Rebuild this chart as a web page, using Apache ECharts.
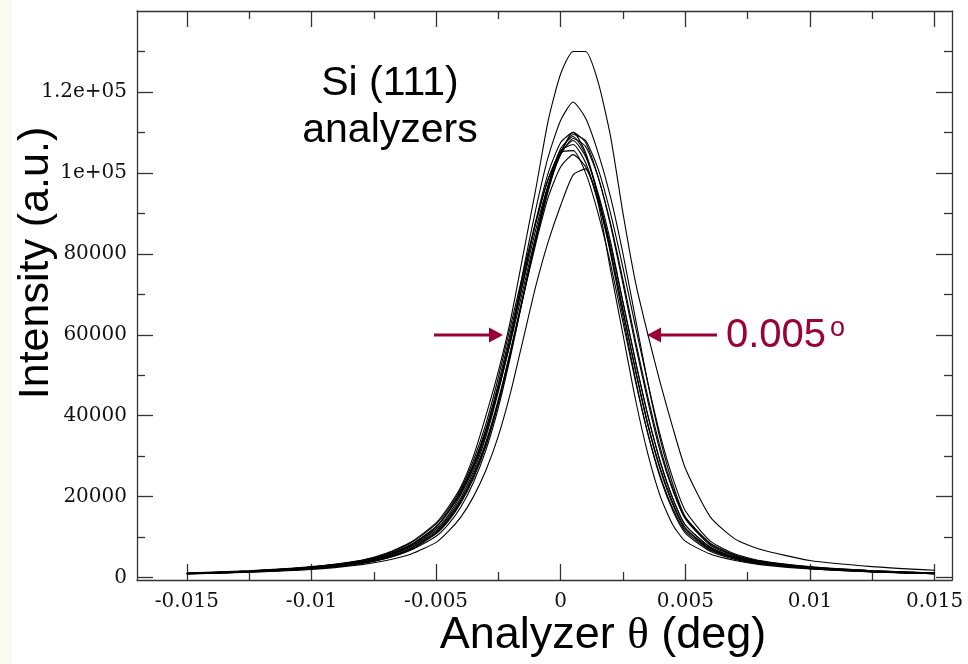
<!DOCTYPE html>
<html>
<head>
<meta charset="utf-8">
<script src="https://cdn.jsdelivr.net/npm/echarts@6/dist/echarts.min.js"></script>
<style>
  html, body { margin: 0; padding: 0; background: #fff; }
  #main { width: 968px; height: 664px; }
</style>
</head>
<body>
<div id="main"></div>
<script>
// x positions (deg) shared by every curve
var xs = [-0.015, -0.0125, -0.01, -0.008, -0.007, -0.006, -0.005, -0.0045, -0.004, -0.0035,
  -0.003, -0.0025, -0.002, -0.0015, -0.001, -0.0005, 0, 0.0005, 0.001, 0.0015,
  0.002, 0.0025, 0.003, 0.0035, 0.004, 0.0045, 0.005, 0.006, 0.007, 0.008,
  0.01, 0.0125, 0.015];

// one array per analyzer
var curveA = [1100, 1700, 2700, 4300, 6000, 8800, 13500, 17500, 22500, 30000,
  40000, 51000, 64000, 80000, 96000, 113000, 124500, 130000, 130000, 122500,
  109000, 90000, 73000, 60000, 48000, 37000, 27000, 15000, 9500, 7000,
  4200, 2700, 1800];
var curveB = [1000, 1600, 2600, 4000, 5500, 8000, 12500, 16500, 21500, 28000,
  36500, 47000, 59000, 76000, 91000, 104000, 113000, 117500, 113500, 105000,
  94000, 80000, 64000, 48000, 34000, 23000, 15000, 8500, 5500, 4000,
  2600, 1700, 1100];
var curveC = [900, 1300, 2000, 3200, 4200, 5800, 8700, 11500, 15000, 20000,
  26500, 35000, 46000, 59000, 72000, 83000, 92000, 99500, 101000, 92500,
  76000, 60000, 44000, 30500, 20000, 13000, 9000, 5800, 4200, 3200,
  2100, 1400, 950];
var curveD = [1000, 1500, 2400, 3900, 5300, 7800, 12000, 15500, 20500, 27000,
  35500, 47000, 60000, 73000, 86000, 97000, 105000, 108000, 104000, 95000,
  83000, 68000, 53500, 40000, 28500, 19500, 13000, 7500, 5000, 3700,
  2400, 1500, 1000];
var curveE = [950, 1400, 2200, 3500, 4800, 7000, 10800, 14000, 18500, 24500,
  32500, 43000, 55500, 69500, 83000, 95500, 105000, 110000, 107500, 99000,
  87000, 72500, 57500, 43500, 31000, 21500, 14500, 8000, 5300, 3900,
  2500, 1600, 1050];
var curveF = [950, 1400, 2200, 3500, 4700, 6800, 10200, 13200, 17500, 23500,
  31500, 42000, 55000, 69500, 84000, 97000, 106000, 109000, 104500, 94000,
  80000, 64500, 49000, 35500, 24500, 16500, 11000, 6500, 4500, 3400,
  2200, 1400, 950];
var curveG = [1050, 1600, 2600, 4200, 5800, 8600, 13200, 17000, 22000, 29000,
  38000, 49500, 62500, 75500, 88000, 98500, 105000, 105500, 100000, 90000,
  77500, 63000, 48500, 35500, 25000, 17000, 11500, 6800, 4700, 3500,
  2300, 1450, 950];
var curveH = [1000, 1500, 2300, 3700, 5000, 7300, 11300, 14600, 19200, 25500,
  33500, 44000, 56500, 70000, 83500, 96000, 105000, 109500, 108000, 101000,
  90000, 76500, 62000, 48000, 35000, 24500, 16500, 9000, 5800, 4200,
  2700, 1700, 1100];
var curveI = [1000, 1550, 2500, 4000, 5500, 8100, 12500, 16200, 21200, 28000,
  36800, 48000, 61000, 74500, 87500, 98500, 105500, 107000, 102500, 93000,
  80500, 66000, 51500, 38000, 27000, 18500, 12300, 7200, 4900, 3600,
  2350, 1500, 1000];
var curveJ = [900, 1400, 2250, 3600, 4900, 7200, 11000, 14300, 18800, 25000,
  33000, 43500, 56000, 69500, 82500, 94000, 101500, 104500, 101500, 93500,
  82000, 68000, 53500, 40000, 28500, 19500, 13000, 7500, 5000, 3650,
  2350, 1450, 950];
var curveK = [1000, 1500, 2350, 3800, 5200, 7600, 11600, 15000, 19800, 26200,
  34800, 46000, 59000, 73500, 88000, 100000, 107500, 110000, 105000, 94500,
  81000, 66000, 51000, 37500, 26500, 18000, 12000, 7000, 4800, 3550,
  2300, 1450, 950];
var curveL = [1050, 1600, 2550, 4100, 5600, 8200, 12600, 16300, 21000, 27500,
  36000, 46500, 58500, 71500, 84500, 96500, 104500, 108500, 106500, 99000,
  87500, 73500, 58500, 44500, 32000, 22000, 14800, 8300, 5500, 4000,
  2600, 1650, 1100];

var curves = [curveA, curveB, curveC, curveD, curveE, curveF, curveG, curveH, curveI, curveJ, curveK, curveL];

// ticks and labels
var xMajor = [-0.015, -0.01, -0.005, 0, 0.005, 0.01, 0.015];
var xLabels = ['-0.015', '-0.01', '-0.005', '0', '0.005', '0.01', '0.015'];
var xMinor = [-0.0125, -0.0075, -0.0025, 0.0025, 0.0075, 0.0125];
var yMajor = [0, 20000, 40000, 60000, 80000, 100000, 120000];
var yLabels = ['0', '20000', '40000', '60000', '80000', '1e+05', '1.2e+05'];
var yMinor = [10000, 30000, 50000, 70000, 90000, 110000, 130000];

var chart = echarts.init(document.getElementById('main'));

var frame = '#333';
var XMIN = -0.017, XMAX = 0.0157, YMIN = -600, YMAX = 140000;

// build one axis (major or minor ticks)
function axis(pos, vals, len, labels, showLine) {
  var isX = (pos === 'bottom' || pos === 'top');
  return {
    type: 'value',
    position: pos,
    min: isX ? XMIN : YMIN,
    max: isX ? XMAX : YMAX,
    axisLine: { show: showLine, onZero: false, lineStyle: { color: frame, width: 1.3 } },
    axisTick: { show: true, inside: true, length: len, customValues: vals, lineStyle: { color: frame, width: 1.3 } },
    axisLabel: {
      show: !!labels,
      customValues: vals,
      margin: isX ? 12 : 10,
      color: '#111',
      fontFamily: 'DejaVu Serif',
      fontSize: 20,
      formatter: function (v) {
        if (!labels) return '';
        var arr = isX ? xMajor : yMajor;
        for (var i = 0; i < arr.length; i++) {
          if (Math.abs(arr[i] - v) < 1e-9) return labels[i];
        }
        return '';
      }
    },
    splitLine: { show: false }
  };
}

var series = curves.map(function (c, k) {
  return {
    type: 'line',
    name: 'analyzer ' + (k + 1),
    data: xs.map(function (x, i) { return [x, c[i]]; }),
    showSymbol: false,
    smooth: 0.2,
    lineStyle: { color: '#000', width: 1.1 },
    emphasis: { disabled: true },
    silent: true,
    animation: false
  };
});

var red = '#9b0036';

var option = {
  backgroundColor: '#fff',
  animation: false,
  grid: { left: 137, right: 16, top: 11, bottom: 84, containLabel: false, outerBoundsMode: 'none' },
  xAxis: [
    axis('bottom', xMajor, 16, xLabels, true),
    axis('bottom', xMinor, 8, null, false),
    axis('top', xMajor, 16, null, true),
    axis('top', xMinor, 8, null, false)
  ],
  yAxis: [
    axis('left', yMajor, 16, yLabels, true),
    axis('left', yMinor, 8, null, false),
    axis('right', yMajor, 16, null, true),
    axis('right', yMinor, 8, null, false)
  ],
  series: series,
  graphic: [
    { type: 'rect', shape: { x: 0, y: 0, width: 12, height: 664 }, style: { fill: '#fcfbef' }, silent: true },
    {
      type: 'text', x: 36, y: 263, rotation: Math.PI / 2,
      style: { text: 'Intensity (a.u.)', font: '43px "Liberation Sans"', fill: '#000', align: 'center', verticalAlign: 'middle' }
    },
    {
      type: 'text', x: 603, y: 636,
      style: {
        text: '{a|Analyzer }{b|θ}{a| (deg)}', align: 'center', verticalAlign: 'middle',
        rich: {
          a: { fontFamily: 'Liberation Sans', fontSize: 45, fill: '#000' },
          b: { fontFamily: 'Liberation Serif', fontSize: 45, fill: '#000' }
        }
      }
    },
    {
      type: 'text', x: 390, y: 84,
      style: { text: 'Si (111)', font: '41px "Liberation Sans"', fill: '#000', align: 'center', verticalAlign: 'middle' }
    },
    {
      type: 'text', x: 390, y: 131,
      style: { text: 'analyzers', font: '41px "Liberation Sans"', fill: '#000', align: 'center', verticalAlign: 'middle' }
    },
    // FWHM arrows
    { type: 'line', shape: { x1: 434, y1: 335, x2: 492, y2: 335 }, style: { stroke: red, lineWidth: 3 } },
    { type: 'polygon', shape: { points: [[503, 335], [489, 327.5], [489, 342.5]] }, style: { fill: red } },
    { type: 'line', shape: { x1: 717, y1: 335, x2: 658, y2: 335 }, style: { stroke: red, lineWidth: 3 } },
    { type: 'polygon', shape: { points: [[647, 335], [661, 327.5], [661, 342.5]] }, style: { fill: red } },
    {
      type: 'text', x: 726, y: 336,
      style: { text: '0.005', font: '40px "Liberation Sans"', fill: red, align: 'left', verticalAlign: 'middle' }
    },
    {
      type: 'text', x: 830, y: 329,
      style: { text: 'o', font: '27px "Liberation Sans"', fill: red, align: 'left', verticalAlign: 'middle' }
    }
  ]
};

chart.setOption(option);
</script>
</body>
</html>
